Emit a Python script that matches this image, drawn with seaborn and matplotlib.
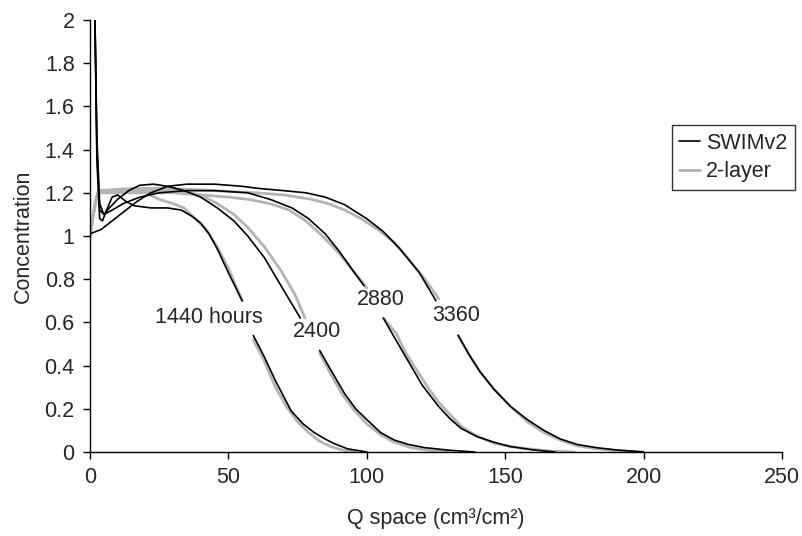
import matplotlib
matplotlib.use("Agg")
import matplotlib.pyplot as plt
from matplotlib.lines import Line2D
import pandas as pd
import seaborn as sns

# ---------------------------------------------------
# Data (Q space vs concentration)
# each curve is split where its time label sits
# ---------------------------------------------------
swim_1440_q = [1.8, 2.5, 3.5, 4.5, 6, 8, 10, 13, 16, 22, 28, 33, 37, 40, 43, 46, 50, 55]
swim_1440_c = [2.0, 1.35, 1.08, 1.07, 1.12, 1.18, 1.19, 1.16, 1.14, 1.13, 1.13, 1.12, 1.09, 1.06, 1.01, 0.94, 0.83, 0.70]
swim_1440_q2 = [59, 63, 67, 72.7, 77, 81, 85, 88, 93, 100]
swim_1440_c2 = [0.54, 0.44, 0.33, 0.19, 0.13, 0.09, 0.06, 0.04, 0.015, 0.0]

swim_2400_q = [1.8, 2.5, 3.5, 5, 7, 10, 14, 18, 23, 28, 34, 40, 46, 52, 57, 63, 69, 76]
swim_2400_c = [2.0, 1.4, 1.12, 1.10, 1.13, 1.17, 1.21, 1.235, 1.24, 1.23, 1.21, 1.18, 1.13, 1.07, 1.0, 0.9, 0.77, 0.62]
swim_2400_q2 = [83, 87, 92, 96, 100, 105, 110, 115, 121, 130, 139]
swim_2400_c2 = [0.47, 0.38, 0.27, 0.20, 0.15, 0.09, 0.055, 0.035, 0.02, 0.008, 0.0]

swim_2880_q = [1.8, 2.5, 3.5, 5, 8, 12, 18, 25, 35, 45, 57, 65, 73, 79, 85, 90, 95, 99]
swim_2880_c = [2.0, 1.45, 1.15, 1.10, 1.12, 1.15, 1.18, 1.2, 1.21, 1.21, 1.20, 1.17, 1.13, 1.08, 1.01, 0.93, 0.84, 0.77]
swim_2880_q2 = [106, 110, 115, 120, 126, 130, 134, 140, 146, 152, 160, 168]
swim_2880_c2 = [0.62, 0.53, 0.42, 0.31, 0.21, 0.155, 0.11, 0.07, 0.045, 0.025, 0.01, 0.0]

swim_3360_q = [0, 4, 8, 12, 17, 22, 28, 35, 45, 55, 61, 70, 78, 85, 92, 100, 106, 112, 119, 125]
swim_3360_c = [1.01, 1.03, 1.07, 1.11, 1.16, 1.2, 1.23, 1.24, 1.24, 1.23, 1.22, 1.21, 1.2, 1.18, 1.145, 1.08, 1.02, 0.94, 0.83, 0.70]
swim_3360_q2 = [133, 137, 141, 146, 152, 158, 164, 170, 176, 183, 190, 200]
swim_3360_c2 = [0.54, 0.45, 0.37, 0.29, 0.21, 0.15, 0.10, 0.06, 0.035, 0.02, 0.01, 0.0]

layer_1440_q = [0, 1, 2, 3, 6, 10, 15, 20, 25, 30, 34, 38, 42, 46, 50, 55]
layer_1440_c = [1.0, 1.08, 1.16, 1.2, 1.21, 1.21, 1.21, 1.2, 1.17, 1.15, 1.13, 1.08, 1.03, 0.95, 0.85, 0.70]
layer_1440_q2 = [59, 63, 67, 71, 75, 79, 83, 87, 91, 96]
layer_1440_c2 = [0.52, 0.42, 0.30, 0.21, 0.14, 0.09, 0.05, 0.025, 0.01, 0.0]

layer_2400_q = [0, 1, 2, 3, 8, 15, 22, 30, 36, 40, 46, 52, 57, 63, 69, 74, 77.7]
layer_2400_c = [1.0, 1.08, 1.16, 1.2, 1.21, 1.21, 1.21, 1.21, 1.2, 1.19, 1.15, 1.1, 1.04, 0.95, 0.84, 0.73, 0.62]
layer_2400_q2 = [83, 87, 91, 95, 100, 105, 110, 116, 122, 130]
layer_2400_c2 = [0.46, 0.36, 0.27, 0.2, 0.13, 0.08, 0.045, 0.02, 0.008, 0.0]

layer_2880_q = [0, 1, 2, 3, 10, 20, 30, 40, 50, 57, 65, 72, 78, 84, 90, 95, 100]
layer_2880_c = [1.0, 1.08, 1.16, 1.2, 1.2, 1.2, 1.2, 1.19, 1.18, 1.17, 1.15, 1.12, 1.07, 1.0, 0.92, 0.84, 0.76]
layer_2880_q2 = [106, 110.6, 114, 118, 122, 126, 129.6, 134, 139, 146, 152, 158, 166, 175]
layer_2880_c2 = [0.62, 0.55, 0.46, 0.38, 0.30, 0.23, 0.18, 0.12, 0.08, 0.04, 0.025, 0.015, 0.005, 0.0]

layer_3360_q = [0, 1, 2, 3, 15, 30, 45, 60, 70, 80, 86, 92, 98, 104, 110, 116, 121, 126]
layer_3360_c = [1.0, 1.08, 1.16, 1.21, 1.22, 1.22, 1.21, 1.2, 1.19, 1.17, 1.15, 1.12, 1.08, 1.03, 0.97, 0.88, 0.80, 0.71]
layer_3360_q2 = [133, 137, 141, 146, 152, 158, 164, 170, 175.5, 183, 191, 200]
layer_3360_c2 = [0.54, 0.45, 0.37, 0.29, 0.21, 0.14, 0.09, 0.055, 0.03, 0.015, 0.005, 0.0]

time_labels = ["1440 hours", "2400", "2880", "3360"]
label_q = [23.5, 73.4, 96.5, 123.6]
label_c = [0.625, 0.556, 0.704, 0.63]

x_ticks = [0, 50, 100, 150, 200, 250]
y_ticks = [0, 0.2, 0.4, 0.6, 0.8, 1, 1.2, 1.4, 1.6, 1.8, 2]
y_tick_labels = ["0", "0.2", "0.4", "0.6", "0.8", "1", "1.2", "1.4", "1.6", "1.8", "2"]

segments = [
    ("SWIMv2", swim_1440_q, swim_1440_c), ("SWIMv2", swim_1440_q2, swim_1440_c2),
    ("SWIMv2", swim_2400_q, swim_2400_c), ("SWIMv2", swim_2400_q2, swim_2400_c2),
    ("SWIMv2", swim_2880_q, swim_2880_c), ("SWIMv2", swim_2880_q2, swim_2880_c2),
    ("SWIMv2", swim_3360_q, swim_3360_c), ("SWIMv2", swim_3360_q2, swim_3360_c2),
    ("2-layer", layer_1440_q, layer_1440_c), ("2-layer", layer_1440_q2, layer_1440_c2),
    ("2-layer", layer_2400_q, layer_2400_c), ("2-layer", layer_2400_q2, layer_2400_c2),
    ("2-layer", layer_2880_q, layer_2880_c), ("2-layer", layer_2880_q2, layer_2880_c2),
    ("2-layer", layer_3360_q, layer_3360_c), ("2-layer", layer_3360_q2, layer_3360_c2),
]

rows = []
for i, (model, qs, cs) in enumerate(segments):
    for q, c in zip(qs, cs):
        rows.append({"q": q, "c": c, "model": model, "seg": i})
df = pd.DataFrame(rows)

sns.set_style("white")
plt.rcParams["font.family"] = ["Liberation Sans", "DejaVu Sans"]

fig = plt.figure(figsize=(8.02, 5.36), dpi=100)
ax = fig.add_axes([0.1122, 0.1567, 0.8628, 0.806])

gray = "#b4b4b4"

sns.lineplot(
    data=df[df["model"] == "2-layer"], x="q", y="c", units="seg",
    estimator=None, sort=False, color=gray, linewidth=2.0, ax=ax
)
sns.lineplot(
    data=df[df["model"] == "SWIMv2"], x="q", y="c", units="seg",
    estimator=None, sort=False, color="black", linewidth=1.2, ax=ax
)

for txt, q, c in zip(time_labels, label_q, label_c):
    ax.text(q, c, txt, ha="left", va="center", fontsize=15.5)

ax.set_xlim(0, 250)
ax.set_ylim(0, 2)
ax.set_xticks(x_ticks)
ax.set_yticks(y_ticks)
ax.set_yticklabels(y_tick_labels)
ax.tick_params(axis="both", direction="out", length=5, width=1, labelsize=15.5,
               left=True, bottom=True, color="black", pad=6)

for side in ["top", "right"]:
    ax.spines[side].set_visible(False)
for side in ["left", "bottom"]:
    ax.spines[side].set_color("black")
    ax.spines[side].set_linewidth(1.0)

ax.set_xlabel("Q space (cm\u00b3/cm\u00b2)", fontsize=15.5, labelpad=14)
ax.set_ylabel("Concentration", fontsize=15.5, labelpad=8)

handles = [
    Line2D([0], [0], color="black", linewidth=1.2),
    Line2D([0], [0], color=gray, linewidth=2.0),
]
leg = ax.legend(
    handles, ["SWIMv2", "2-layer"], loc="upper left",
    bbox_to_anchor=(0.841, 0.757), borderaxespad=0, fontsize=15.5,
    frameon=True, fancybox=False, handlelength=0.95, handletextpad=0.3,
    borderpad=0.35, labelspacing=0.35
)
leg.get_frame().set_edgecolor("black")
leg.get_frame().set_linewidth(1.0)

plt.savefig("out.png", dpi=100)
plt.close()
